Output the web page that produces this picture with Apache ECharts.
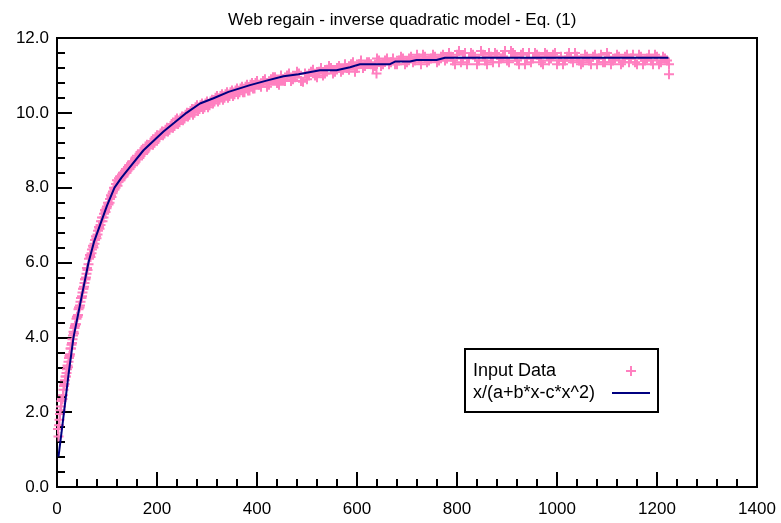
<!DOCTYPE html>
<html>
<head>
<meta charset="UTF-8">
<title>Web regain</title>
<script src="https://cdn.jsdelivr.net/npm/echarts@6/dist/echarts.min.js"></script>
<style>
html,body{margin:0;padding:0;background:#fff;}
#main{width:781px;height:523px;}
</style>
</head>
<body>
<div id="main"></div>
<script type="text/javascript">
var inputRise = [
  [2,1.55],[3,1.35],[4,1.65],[5,1.8],[6,1.95],[7,2.05],[8,2.15],[9,2.3],[10,2.35],[11,2.35],[12,2.45],[13,2.6],
  [14,2.7],[15,2.75],[16,2.85],[17,2.95],[18,2.95],[19,3.05],[20,3.15],[21,3.25],[22,3.2],[23,3.35],[24,3.45],
  [25,3.5],[26,3.55],[27,3.7],[28,3.7],[29,3.8],[30,3.85],[31,3.95],[32,4.05],[33,4.15],[34,4.1],[35,4.25],
  [36,4.3],[37,4.35],[38,4.35],[39,4.5],[40,4.55],[41,4.55],[42,4.6],[43,4.75],[44,4.8],[45,4.8],[46,4.85],
  [47,4.95],[48,5.05],[49,5.05],[50,5.1],[51,5.2],[52,5.3],[53,5.3],[54,5.35],[55,5.45],[56,5.55],[57,5.55],
  [58,5.6],[59,5.7],[60,5.85],[61,5.8],[63,5.95],[64,6.1],[66,6.2],[67,6.15],[69,6.25],[70,6.35],[72,6.45],
  [73,6.4],[75,6.5],[76,6.6],[78,6.7],[79,6.65],[81,6.75],[82,6.85],[84,6.95],[85,6.9],[87,7.0],[88,7.1],
  [90,7.2],[91,7.1],[93,7.2],[94,7.3],[96,7.4],[97,7.35],[99,7.45],[100,7.5],[102,7.6],[103,7.55],[105,7.6],
  [106,7.7],[108,7.8],[109,7.75],[111,7.85],[112,7.9],[114,8.0],[115,7.95],[117,8.0],[118,8.1],[120,8.2],
  [121,8.05],[123,8.15],[124,8.25],[126,8.3],[127,8.2],[129,8.25],[130,8.35],[132,8.4],[133,8.3],[135,8.35],
  [136,8.45],[138,8.5],[139,8.4],[141,8.45],[142,8.55],[144,8.6],[145,8.5],[147,8.55],[148,8.65],[150,8.7],[152,8.6]
];
var inputBend = [
  [155,8.65],[157,8.8],[160,8.85],[162,8.75],[165,8.8],[167,8.95],[170,9.0],[172,8.9],[175,8.95],[177,9.1],
  [180,9.15],[182,9.05],[185,9.1],[187,9.2],[190,9.25],[192,9.15],[195,9.2],[197,9.35],[200,9.4],[202,9.3],
  [205,9.35],[207,9.45],[210,9.5],[212,9.4],[215,9.45],[217,9.55],[220,9.6],[222,9.5],[225,9.55],[227,9.65],
  [230,9.7],[232,9.6],[235,9.65],[237,9.8],[240,9.85],[242,9.7],[245,9.75],[247,9.85],[250,9.9],[252,9.8],
  [255,9.85],[257,9.95],[260,10.0],[262,9.9],[265,9.95],[267,10.05],[270,10.1],[272,9.95],[275,10.0],[277,10.15],
  [280,10.2],[282,10.05],[285,10.1],[287,10.2],[290,10.25],[292,10.1],[295,10.15],[297,10.25],[300,10.3],[302,10.15],
  [305,10.2],[307,10.3],[310,10.35],[312,10.25],[315,10.3],[317,10.4],[320,10.45],[322,10.3],[325,10.35],[327,10.45],
  [330,10.5],[332,10.35],[335,10.4],[337,10.5],[340,10.55],[342,10.4],[345,10.45],[347,10.55],[350,10.6],[352,10.45],
  [355,10.5],[357,10.6],[360,10.65],[362,10.5],[365,10.55],[367,10.65],[370,10.7],[372,10.55],[375,10.55],[377,10.7],
  [380,10.75],[382,10.6],[385,10.6],[387,10.75],[390,10.8],[392,10.65],[395,10.65],[397,10.8],[400,10.85]
];
var inputLevel = [
  [404,10.75],[408,10.7],[412,10.85],[416,10.9],[420,10.7],[424,10.75],[428,10.9],[432,10.95],[436,10.95],[440,10.8],
  [444,10.75],[448,11.0],[452,10.9],[456,10.85],[460,11.0],[464,11.05],[468,10.85],[472,10.9],[476,10.95],[480,11.1],
  [484,11.05],[488,10.85],[492,10.83],[496,11.05],[500,10.9],[504,11.0],[508,11.1],[512,11.15],[516,11.0],[520,10.95],
  [524,11.1],[528,11.2],[532,11.0],[536,11.05],[540,11.15],[544,11.25],[548,11.2],[552,11.05],[556,11.1],[560,11.2],
  [564,11.25],[568,11.1],[572,11.15],[576,11.3],[580,11.2],[584,11.15],[588,11.3],[592,11.35],[596,11.1],[600,11.2],
  [604,11.3],[608,11.4],[612,11.2],[616,11.25],[620,11.35],[624,11.35],[628,11.3],[632,11.2],[636,11.25],[639,11.05],
  [640,11.45],[644,11.4],[648,11.25],[652,11.3],[656,11.4],[660,11.45],[664,11.3],[668,11.35],[672,11.45],[676,11.3],
  [680,11.3],[684,11.4],[688,11.5],[692,11.45],[696,11.3],[700,11.35],[704,11.45],[708,11.5],[712,11.35],[716,11.4],
  [720,11.55],[724,11.45],[728,11.3],[732,11.55],[736,11.5],[740,11.35],[744,11.4],[748,11.45],[752,11.55],[756,11.5],
  [760,11.35],[764,11.4],[768,11.5],[772,11.55],[776,11.4],[780,11.45]
];
var inputPlateau = [
  [784,11.6],[788,11.5],[792,11.4],[796,11.3],[800,11.55],[804,11.65],[808,11.35],[812,11.45],[816,11.6],[820,11.3],
  [824,11.45],[828,11.6],[832,11.55],[836,11.5],[840,11.3],[844,11.4],[848,11.65],[852,11.55],[856,11.4],[860,11.3],
  [864,11.6],[868,11.5],[872,11.35],[876,11.6],[880,11.55],[884,11.35],[888,11.45],[892,11.5],[896,11.65],[900,11.4],
  [904,11.35],[908,11.65],[912,11.6],[916,11.5],[920,11.4],[924,11.3],[928,11.55],[932,11.6],[936,11.3],[940,11.45],
  [944,11.6],[948,11.35],[952,11.45],[956,11.6],[960,11.55],[964,11.5],[968,11.35],[972,11.3],[976,11.6],[980,11.55],
  [984,11.4],[988,11.45],[992,11.55],[996,11.6],[1000,11.3],[1004,11.4],[1008,11.5],[1012,11.3],[1016,11.4],[1020,11.5],
  [1024,11.6],[1028,11.45],[1032,11.35],[1036,11.6],[1040,11.5],[1044,11.4],[1048,11.3],[1052,11.35],[1056,11.55],[1060,11.5],
  [1064,11.4],[1068,11.3],[1072,11.5],[1076,11.55],[1080,11.3],[1084,11.45],[1088,11.55],[1092,11.35],[1096,11.35],[1100,11.6],
  [1104,11.5],[1108,11.3],[1112,11.4],[1116,11.45],[1120,11.55],[1124,11.5],[1128,11.3],[1132,11.35],[1136,11.5],[1140,11.55],
  [1144,11.35],[1148,11.45],[1152,11.55],[1156,11.35],[1160,11.3],[1164,11.55],[1168,11.5],[1172,11.3],[1176,11.4],[1180,11.45],
  [1184,11.55],[1188,11.4],[1192,11.3],[1196,11.55],[1200,11.5],[1204,11.3],[1208,11.35],[1212,11.5],[1216,11.45],[1220,11.4],
  [1224,11.3],[1224,11.03]
];
// fitted curve x/(a+b*x-c*x^2)
var fitX = [3,9,14,23,33,48,63,74,86,100,115,129,143,173,213,259,286,313,343,386,419,453,483,526,559,586,606,666,676,706,719,759,776,1223];
var fitY = [0.81,1.45,2.0,3.0,4.0,5.0,6.0,6.55,7.0,7.52,8.0,8.27,8.5,9.0,9.5,10.0,10.25,10.39,10.56,10.74,10.86,10.98,11.03,11.14,11.14,11.22,11.30,11.30,11.37,11.37,11.41,11.41,11.47,11.47];

var xTicks = {min: 0, max: 1400, step: 200};
var yTicks = {min: 0, max: 12, step: 2};

var FONT = 'Liberation Sans, Arial, sans-serif';
var CROSS = 'path://M4,0h2v10h-2zM0,4h10v2h-10z';
var DASH = 'path://M0,0h38v2h-38z';

var fitData = [];
for (var i = 0; i < fitX.length; i++) {
  fitData.push([fitX[i], fitY[i]]);
}
var inputData = inputRise.concat(inputBend, inputLevel, inputPlateau);

var option = {
  animation: false,
  backgroundColor: '#fff',
  title: {
    text: 'Web regain - inverse quadratic model - Eq. (1)',
    left: 223,
    top: 7,
    textStyle: {fontFamily: FONT, fontSize: 17, fontWeight: 'normal', color: '#000'}
  },
  grid: {left: 57, right: 24, top: 38, bottom: 36, show: true, borderColor: '#000', borderWidth: 2},
  legend: {
    orient: 'vertical',
    left: 465,
    top: 349,
    align: 'right',
    padding: [13, 8, 10, 8],
    itemGap: 4,
    itemWidth: 38,
    itemHeight: 10,
    borderColor: '#000',
    borderWidth: 2,
    backgroundColor: '#fff',
    formatter: function (name) { return '{t|' + name + '}'; },
    textStyle: {
      fontFamily: FONT, fontSize: 18, color: '#000',
      rich: {t: {width: 134, align: 'left', fontFamily: FONT, fontSize: 18, lineHeight: 18, color: '#000'}}
    },
    data: [
      {name: 'Input Data', icon: CROSS},
      {name: 'x/(a+b*x-c*x^2)', icon: DASH}
    ]
  },
  xAxis: {
    type: 'value', min: xTicks.min, max: xTicks.max, interval: xTicks.step,
    axisLine: {show: true, lineStyle: {color: '#000', width: 2}},
    axisTick: {show: true, inside: true, length: 15, lineStyle: {color: '#000', width: 2}},
    minorTick: {show: true, splitNumber: 5, length: 8, lineStyle: {color: '#000', width: 2}},
    splitLine: {show: false},
    axisLabel: {fontFamily: FONT, fontSize: 17, color: '#000', margin: 14,
      formatter: function (v) { return String(v); }}
  },
  yAxis: {
    type: 'value', min: yTicks.min, max: yTicks.max, interval: yTicks.step,
    axisLine: {show: true, lineStyle: {color: '#000', width: 2}},
    // negative length puts the ticks inside the plot
    axisTick: {show: true, inside: false, length: -15, lineStyle: {color: '#000', width: 2}},
    minorTick: {show: true, splitNumber: 5, length: -8, lineStyle: {color: '#000', width: 2}},
    splitLine: {show: false},
    axisLabel: {fontFamily: FONT, fontSize: 17, color: '#000', margin: 8,
      formatter: function (v) { return v.toFixed(1); }}
  },
  series: [
    {
      name: 'Input Data',
      type: 'scatter',
      symbol: CROSS,
      symbolSize: 10,
      itemStyle: {color: '#ff80c0', opacity: 1},
      data: inputData,
      z: 2
    },
    {
      name: 'x/(a+b*x-c*x^2)',
      type: 'line',
      symbol: 'none',
      showSymbol: false,
      lineStyle: {color: '#000080', width: 2},
      itemStyle: {color: '#000080'},
      data: fitData,
      z: 3
    }
  ]
};

var myChart = echarts.init(document.getElementById('main'));
myChart.setOption(option);
</script>
</body>
</html>
